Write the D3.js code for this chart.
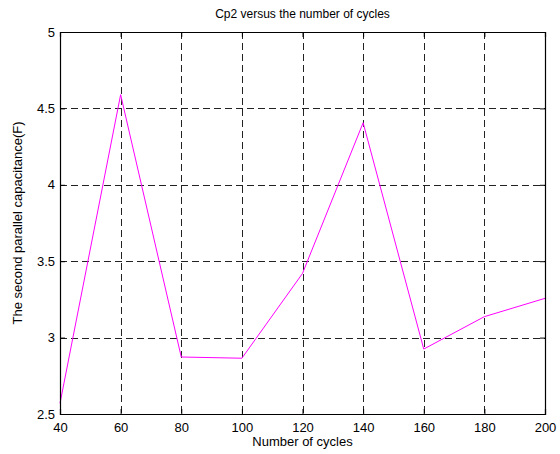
<!DOCTYPE html>
<html>
<head>
<meta charset="utf-8">
<script src="https://cdn.jsdelivr.net/npm/d3@7"></script>
<style>
  html, body { margin: 0; padding: 0; background: #fff; }
  svg { display: block; }
  text { font-family: "Liberation Sans", Arial, Helvetica, sans-serif; fill: #000; }
</style>
</head>
<body>
<svg id="chart" width="560" height="454"></svg>
<script>
const cycles = [40, 60, 80, 100, 120, 140, 160, 180, 200];
const cp2 = [2.57, 4.59, 2.873, 2.865, 3.42, 4.406, 2.925, 3.137, 3.257];
const xTicks = [40, 60, 80, 100, 120, 140, 160, 180, 200];
const yTicks = [2.5, 3, 3.5, 4, 4.5, 5];
const title = "Cp2 versus the number of cycles";
const xLabel = "Number of cycles";
const yLabel = "The second parallel capacitance(F)";

const svg = d3.select("#chart");
const L = 60, R = 545, T = 32, B = 414;
const x = d3.scaleLinear().domain([40, 200]).range([L, R]);
const y = d3.scaleLinear().domain([2.5, 5]).range([B, T]);

// grid
const g = svg.append("g");
g.selectAll(".vg").data(xTicks.slice(1, -1)).enter().append("line")
  .attr("x1", d => Math.round(x(d)) + 0.5).attr("x2", d => Math.round(x(d)) + 0.5)
  .attr("y1", T).attr("y2", B)
  .attr("stroke", "#222").attr("stroke-width", 1).attr("stroke-dasharray", "7,4");
g.selectAll(".hg").data(yTicks.slice(1, -1)).enter().append("line")
  .attr("y1", d => Math.round(y(d)) + 0.5).attr("y2", d => Math.round(y(d)) + 0.5)
  .attr("x1", L).attr("x2", R)
  .attr("stroke", "#222").attr("stroke-width", 1).attr("stroke-dasharray", "7,4");

// line
svg.append("path")
  .datum(cycles.map((c, i) => [c, cp2[i]]))
  .attr("fill", "none").attr("stroke", "#ff00ff").attr("stroke-width", 1)
  .attr("d", d3.line().x(d => x(d[0])).y(d => y(d[1])));

// axes (ticks inside)
const xa = svg.append("g").attr("transform", `translate(0,${B})`)
  .call(d3.axisBottom(x).tickValues(xTicks).tickSize(-5).tickPadding(9).tickFormat(d3.format("d")));
const ya = svg.append("g").attr("transform", `translate(${L},0)`)
  .call(d3.axisLeft(y).tickValues(yTicks).tickSize(-5).tickPadding(5).tickFormat(d => String(d)));
const xt = svg.append("g").attr("transform", `translate(0,${T})`)
  .call(d3.axisTop(x).tickValues(xTicks).tickSize(-5).tickFormat(""));
const yr = svg.append("g").attr("transform", `translate(${R},0)`)
  .call(d3.axisRight(y).tickValues(yTicks).tickSize(-5).tickFormat(""));
[xa, ya, xt, yr].forEach(a => {
  a.selectAll("path.domain").attr("stroke", "#000").attr("stroke-width", 1.2);
  a.selectAll(".tick line").attr("stroke", "#000");
  a.selectAll("text").attr("font-size", 13).attr("font-family", "Liberation Sans, Arial, sans-serif").attr("fill", "#000");
});

svg.append("text").attr("x", (L + R) / 2).attr("y", 18).attr("text-anchor", "middle")
  .attr("font-size", 12).text(title);
svg.append("text").attr("x", (L + R) / 2).attr("y", 446).attr("text-anchor", "middle")
  .attr("font-size", 13).text(xLabel);
svg.append("text").attr("transform", `translate(22,${(T + B) / 2}) rotate(-90)`)
  .attr("text-anchor", "middle").attr("font-size", 13).text(yLabel);
</script>
</body>
</html>
